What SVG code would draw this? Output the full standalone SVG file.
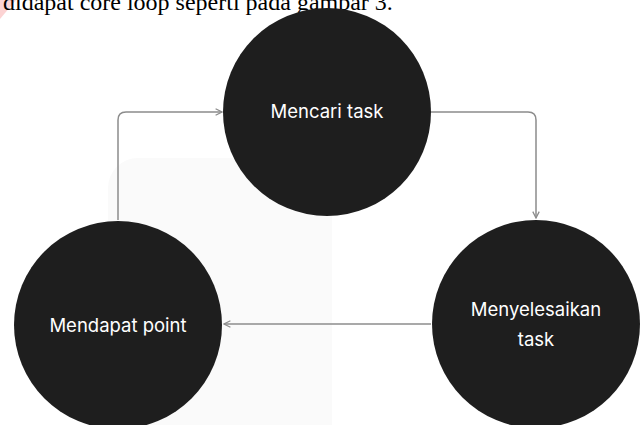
<svg xmlns="http://www.w3.org/2000/svg" width="643" height="425" viewBox="0 0 643 425">
<defs>
<style>
.node{fill:#1e1e1e}
.lbl{fill:#ffffff;font-family:Inter,"Noto Sans",sans-serif;font-size:18.5px;text-anchor:middle}
.conn{fill:none;stroke:#8c8c8c;stroke-width:1.5}
</style>
<marker id="arr" viewBox="0 0 10 10" refX="9" refY="5" markerWidth="8" markerHeight="8" orient="auto" markerUnits="userSpaceOnUse">
<path d="M1,1 L9,5 L1,9" fill="none" stroke="#8c8c8c" stroke-width="1.6"/>
</marker>
</defs>
<rect width="643" height="425" fill="#ffffff"/>
<rect x="108" y="158" width="224" height="300" rx="30" fill="#fafafa"/>
<polygon points="0,0 16,0 0,19" fill="#fcd3d3"/>
<text x="3" y="10" font-family="'Liberation Serif',serif" font-size="24" fill="#000">didapat core loop seperti pada gambar 3.</text>
<g id="connectors">
<path class="conn" d="M118,220 V120 Q118,112 126,112 H222" marker-end="url(#arr)"/>
<path class="conn" d="M431,112 H528 Q536,112 536,120 V218" marker-end="url(#arr)"/>
<path class="conn" d="M431,324 H224" marker-end="url(#arr)"/>
</g>
<g id="node-mencari">
<circle class="node" cx="327" cy="112" r="104"/>
<text class="lbl" x="327" y="118">Mencari task</text>
</g>
<g id="node-menyelesaikan">
<circle class="node" cx="536" cy="324" r="104"/>
<text class="lbl" x="536" y="316">Menyelesaikan</text>
<text class="lbl" x="536" y="346">task</text>
</g>
<g id="node-mendapat">
<circle class="node" cx="118" cy="325" r="104"/>
<text class="lbl" x="118" y="332">Mendapat point</text>
</g>
</svg>
